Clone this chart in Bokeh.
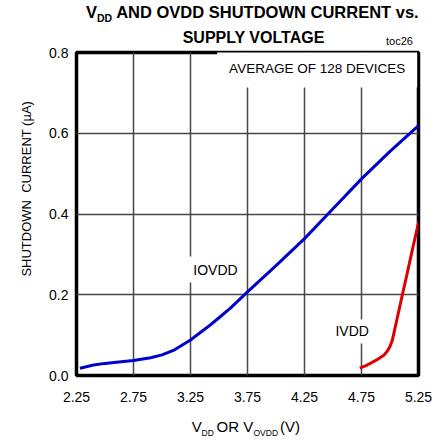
from bokeh.plotting import figure
from bokeh.models import Label, FixedTicker, NumeralTickFormatter, Range1d, Div, Title
from bokeh.layouts import column
from bokeh.embed import file_html
from bokeh.resources import INLINE

# ---- data ----
iovdd_v = [2.28, 2.40, 2.50, 2.60, 2.75, 2.90, 3.00, 3.10, 3.25, 3.40, 3.50, 3.60,
           3.75, 4.00, 4.25, 4.50, 4.75, 5.00, 5.25]
iovdd_i = [0.018, 0.026, 0.030, 0.033, 0.037, 0.044, 0.051, 0.062, 0.088, 0.120, 0.143, 0.167,
           0.207, 0.272, 0.339, 0.413, 0.487, 0.555, 0.619]
ivdd_v = [4.735, 4.80, 4.88, 4.946, 4.98, 5.00, 5.02, 5.05, 5.10, 5.15, 5.20, 5.25]
ivdd_i = [0.018, 0.026, 0.038, 0.050, 0.062, 0.072, 0.087, 0.125, 0.189, 0.252, 0.316, 0.379]
x_ticks = [2.25, 2.75, 3.25, 3.75, 4.25, 4.75, 5.25]
y_ticks = [0.0, 0.2, 0.4, 0.6, 0.8]

FONT = "Liberation Sans"
W = 435
TITLE_H, FIG_H, XLAB_H = 46, 363, 34

# ---------------- title block (HTML, with subscripts) ----------------
def top_for(baseline, size):
    return baseline - 0.8465 * size

def piece(html, left, baseline, size, bold=False, center=False):
    t = top_for(baseline, size)
    w = "font-weight:bold;" if bold else ""
    if center:
        pos = f"left:{left - 200}px;width:400px;text-align:center;"
    else:
        pos = f"left:{left}px;"
    return (f'<div style="position:absolute;{pos}top:{t:.2f}px;font-size:{size}px;'
            f'line-height:{size}px;white-space:nowrap;{w}">{html}</div>')

sub_t = '<span style="font-size:10.5px;line-height:0;position:relative;top:3.4px">DD</span>'
title_html = (
    f'<div style="position:relative;width:{W}px;height:{TITLE_H}px;'
    f'font-family:\'{FONT}\',Arial,sans-serif;color:#000">'
    + piece(f"V{sub_t} AND OVDD SHUTDOWN CURRENT vs.", 86, 18.3, 16.5, bold=True)
    + piece("SUPPLY VOLTAGE", 253.5, 44, 16, bold=True, center=True)
    + piece("toc26", 399.5, 45, 11, center=True)
    + "</div>"
)
title_div = Div(text=title_html, width=W, height=TITLE_H, margin=0)

xlab_html = (
    f'<div style="position:relative;width:{W}px;height:{XLAB_H}px;'
    f'font-family:\'{FONT}\',Arial,sans-serif;color:#000">'
    + piece("V", 191.7, 23, 15)
    + piece("DD", 201.5, 27, 8.5)
    + piece("OR V", 216.5, 23, 15)
    + piece("OVDD", 253.5, 27, 8.5)
    + piece("(V)", 280, 23, 15)
    + "</div>"
)
xlab_div = Div(text=xlab_html, width=W, height=XLAB_H, margin=0)

# ---------------- chart ----------------
p = figure(width=W, height=FIG_H, output_backend="svg", toolbar_location=None,
           x_range=Range1d(2.25, 5.25), y_range=Range1d(0.0, 0.8),
           min_border_left=76, min_border_right=17, min_border_top=6, min_border_bottom=34,
           margin=0)
p.background_fill_color = "white"
p.border_fill_color = "white"
p.outline_line_color = "black"
p.outline_line_width = 3.5

for ax in (p.xaxis, p.yaxis):
    ax.axis_line_color = None
    ax.major_tick_line_color = None
    ax.minor_tick_line_color = None
    ax.major_tick_in = 0
    ax.major_tick_out = 0
    ax.major_label_text_font = FONT
    ax.major_label_text_font_size = "14px"
    ax.major_label_text_color = "black"
p.xaxis.ticker = FixedTicker(ticks=x_ticks)
p.yaxis.ticker = FixedTicker(ticks=y_ticks)
p.xaxis.formatter = NumeralTickFormatter(format="0.00")
p.yaxis.formatter = NumeralTickFormatter(format="0.0")
p.xaxis.major_label_standoff = 16
p.yaxis.major_label_standoff = 8

p.xgrid.ticker = FixedTicker(ticks=x_ticks)
p.ygrid.ticker = FixedTicker(ticks=y_ticks)
for g in (p.xgrid, p.ygrid):
    g.grid_line_color = "#474747"
    g.grid_line_width = 1.5

p.line(iovdd_v, iovdd_i, line_color="#0000cc", line_width=3)
p.line(ivdd_v, ivdd_i, line_color="#dd0000", line_width=3)

# y-axis title (left side); leading no-break spaces move the visible text up as in the reference
p.add_layout(Title(text="\u00a0" * 14 + "SHUTDOWN\u00a0 CURRENT (\u00b5A)", align="center",
                   text_font=FONT, text_font_size="13px", text_font_style="normal",
                   text_color="black", standoff=25), "left")

# in-plot annotations
p.add_layout(Label(x=4.361, y=0.7616, text="AVERAGE OF 128 DEVICES", text_font=FONT,
                   text_font_size="13.5px", text_align="center", text_baseline="middle",
                   text_color="black", background_fill_color="white", padding=12))
p.add_layout(Label(x=3.469, y=0.2625, text="IOVDD", text_font=FONT,
                   text_font_size="14px", text_align="center", text_baseline="middle",
                   text_color="black", background_fill_color="white", padding=5))
p.add_layout(Label(x=4.668, y=0.109, text="IVDD", text_font=FONT,
                   text_font_size="14px", text_align="center", text_baseline="middle",
                   text_color="black", background_fill_color="white", padding=4))

layout = column(title_div, p, xlab_div, spacing=0, margin=0)
open("out.html", "w").write(file_html(layout, INLINE))
